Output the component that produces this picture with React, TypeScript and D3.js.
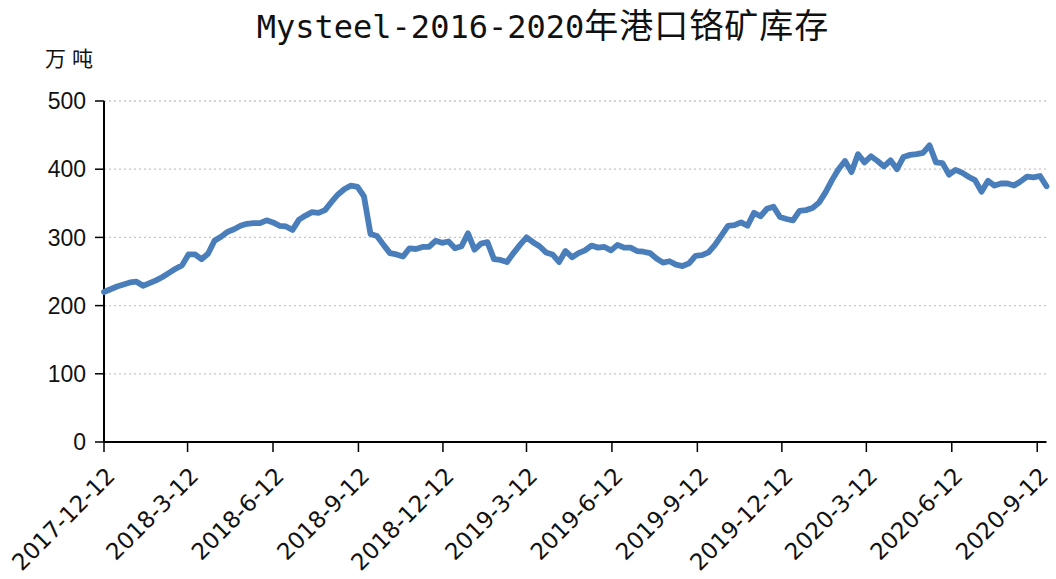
import React from "react";
import * as d3 from "d3";

const titleLatin = "Mysteel-2016-2020";
const titleCJK = "年港口铬矿库存";
const unitLabel = "万吨";
const startDate = "2017-12-12";
const yTicks = [0, 100, 200, 300, 400, 500];
const xTickLabels = [
  "2017-12-12", "2018-3-12", "2018-6-12", "2018-9-12", "2018-12-12", "2019-3-12",
  "2019-6-12", "2019-9-12", "2019-12-12", "2020-3-12", "2020-6-12", "2020-9-12",
];
// weekly inventory, 万吨
const weeklyValues = [
  220, 224, 228, 231, 234, 235, 229, 233, 237, 242, 248, 254, 259, 275, 275, 268,
  276, 295, 301, 308, 312, 317, 320, 321, 321, 325, 322, 317, 316, 311, 326, 332,
  337, 336, 340, 352, 363, 371, 376, 374, 360, 305, 302, 289, 277, 275, 272, 284,
  283, 286, 286, 295, 292, 294, 284, 287, 306, 282, 291, 293, 268, 267, 264, 277,
  289, 300, 293, 287, 278, 275, 264, 280, 271, 277, 281, 288, 285, 286, 281, 289,
  285, 285, 280, 279, 277, 269, 263, 265, 260, 258, 262, 273, 274, 278, 289, 303,
  317, 318, 322, 317, 336, 331, 342, 345, 330, 327, 325, 339, 340, 343, 351, 366,
  384, 400, 412, 396, 422, 410, 419, 412, 404, 413, 400, 418, 421, 422, 424, 435,
  410, 409, 392, 399, 395, 389, 384, 367, 383, 376, 379, 379, 376, 382, 389, 388,
  390, 375,
];

const parse = d3.timeParse("%Y-%m-%d");

export default function App() {
  const W = 1056, H = 579;
  const left = 104, right = 1046.5, top = 101, bottom = 442;
  const start = parse(startDate)!;
  const dates = weeklyValues.map((_, i) => d3.timeDay.offset(start, i * 7));
  const data = weeklyValues.map((v, i) => ({ d: dates[i], v }));
  const x = d3.scaleTime().domain([dates[0], dates[dates.length - 1]]).range([left, right]);
  const y = d3.scaleLinear().domain([0, 500]).range([bottom, top]);
  const line = d3.line<{ d: Date; v: number }>().x((p) => x(p.d)).y((p) => y(p.v));
  const tickDates = xTickLabels.map((s) => parse(s.replace(/-(\d)(?=-|$)/g, "-0$1"))!);

  return (
    <svg width={W} height={H} style={{ position: "absolute", left: 0, top: 0, background: "#fff" }}>
      <text x={543} y={38} textAnchor="middle" fill="#111">
        <tspan fontFamily="'DejaVu Sans Mono', monospace" fontSize={32}>{titleLatin}</tspan>
        <tspan fontFamily="'Noto Sans CJK SC'" fontSize={34} letterSpacing={1}>{titleCJK}</tspan>
      </text>
      <text x={45} y={66} fontFamily="'Noto Sans CJK SC'" fontSize={21} letterSpacing={6} fill="#111">{unitLabel}</text>
      {yTicks.filter((t) => t > 0).map((t) => (
        <line key={"g" + t} x1={left} x2={right} y1={y(t)} y2={y(t)} stroke="#c6c6c6" strokeWidth={1.3} strokeDasharray="2,3" />
      ))}
      {yTicks.map((t) => (
        <g key={"y" + t}>
          <line x1={left - 9} x2={left} y1={y(t)} y2={y(t)} stroke="#000" strokeWidth={1.5} />
          <text x={left - 18} y={y(t)} dy="0.36em" textAnchor="end" fontFamily="'Liberation Sans', Arial" fontSize={23} fill="#111">{t}</text>
        </g>
      ))}
      <line x1={left} x2={left} y1={top} y2={bottom} stroke="#000" strokeWidth={2} />
      <line x1={left} x2={right} y1={bottom} y2={bottom} stroke="#000" strokeWidth={2} />
      {tickDates.map((d, i) => (
        <g key={"x" + i}>
          <line x1={x(d)} x2={x(d)} y1={bottom} y2={bottom + 10} stroke="#000" strokeWidth={1.5} />
          <text transform={`translate(${x(d) + 1},${bottom + 24}) rotate(-45)`} textAnchor="end" dy="0.7em"
            fontFamily="'DejaVu Sans'" fontSize={23} fill="#111">{xTickLabels[i]}</text>
        </g>
      ))}
      <path d={line(data)!} fill="none" stroke="#4a7ebb" strokeWidth={5.8} strokeLinejoin="round" strokeLinecap="round" />
    </svg>
  );
}
